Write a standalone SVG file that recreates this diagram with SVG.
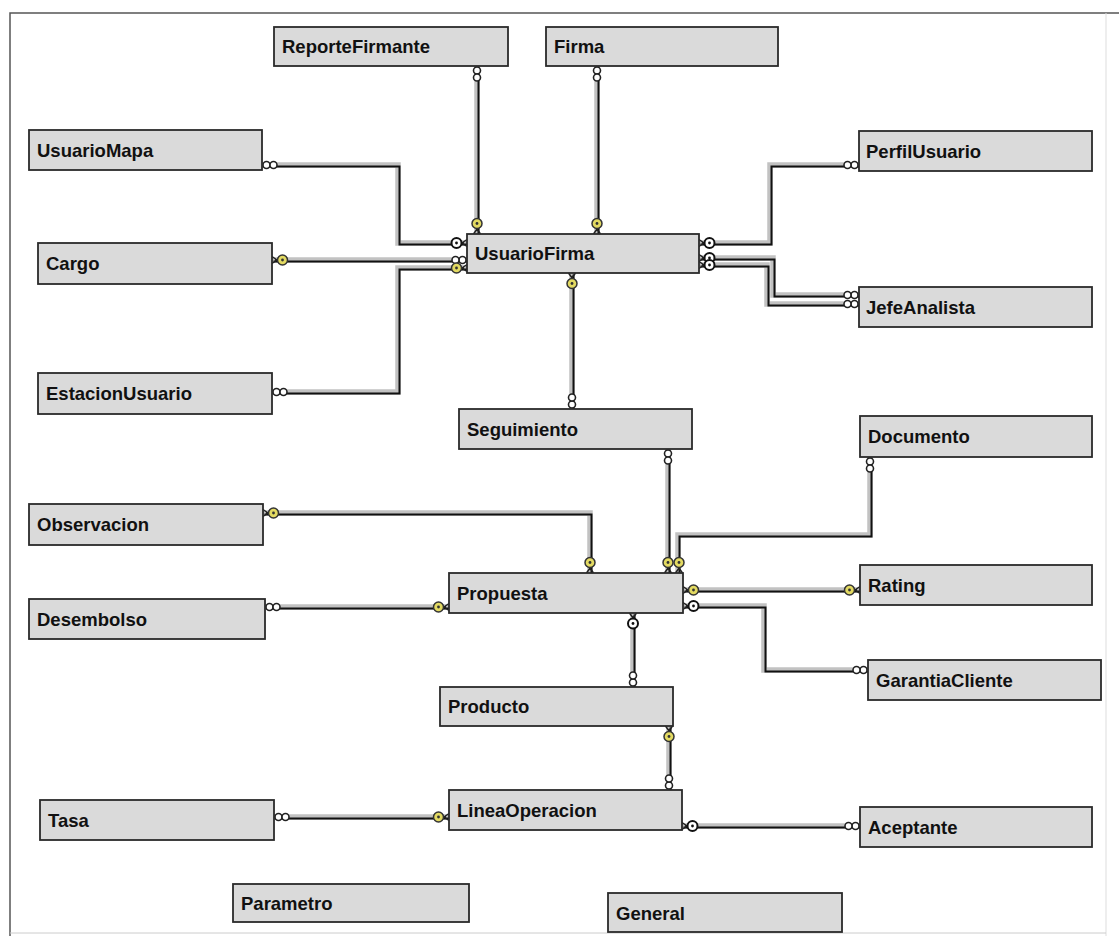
<svg xmlns="http://www.w3.org/2000/svg" xmlns:xlink="http://www.w3.org/1999/xlink" width="1119" height="936" viewBox="0 0 1119 936">
<style>
.box{fill:#dadada;stroke:#2a2a2a;stroke-width:1.8}
.lbl{font-family:"Liberation Sans",Arial,sans-serif;font-weight:bold;font-size:18.5px;fill:#111}
.rail{fill:none;stroke:#c2c2c2;stroke-width:5.5}
.core{fill:none;stroke:#111;stroke-width:2}
.frame{stroke:#555;stroke-width:1.5;fill:none}
</style>
<defs>
<g id="key">
<path d="M0,-3.5 L5,0 L0,3.5" fill="none" stroke="#222" stroke-width="1.5"/>
<line x1="3" y1="0" x2="6" y2="0" stroke="#222" stroke-width="2"/>
<circle cx="10.5" cy="0" r="5" fill="#e3da62" stroke="#333" stroke-width="1.5"/>
<circle cx="10.5" cy="0" r="1.4" fill="#333"/>
</g>
<g id="wkey">
<path d="M0,-3.5 L5,0 L0,3.5" fill="none" stroke="#222" stroke-width="1.5"/>
<line x1="3" y1="0" x2="6" y2="0" stroke="#222" stroke-width="2"/>
<circle cx="10.5" cy="0" r="5" fill="#fff" stroke="#111" stroke-width="2"/>
<circle cx="10.5" cy="0" r="1.4" fill="#111"/>
</g>
<g id="inf">
<circle cx="4.5" cy="0" r="3.5" fill="#fff" stroke="#222" stroke-width="1.6"/>
<circle cx="11.5" cy="0" r="3.5" fill="#fff" stroke="#222" stroke-width="1.6"/>
</g>
</defs>
<rect x="0" y="0" width="1119" height="936" fill="#fff"/>
<g id="frame">
<path class="frame" d="M10,936 V13 H1119"/>
<path d="M1106,13 V936" stroke="#ddd" stroke-width="1" fill="none"/>
<path d="M10,933 H1106" stroke="#ccc" stroke-width="1" fill="none"/>
</g>
<g id="connectors">
<g id="rails">
<path class="rail" d="M477,66 V234"/>
<path class="rail" d="M597,66 V234"/>
<path class="rail" d="M262,165 H398 V243 H467"/>
<path class="rail" d="M272,260 H467"/>
<path class="rail" d="M272,392 H398 V268 H467"/>
<path class="rail" d="M859,165 H770 V243 H699"/>
<path class="rail" d="M859,295 H773 V258 H699"/>
<path class="rail" d="M859,304 H767 V265 H699"/>
<path class="rail" d="M572,409 V273"/>
<path class="rail" d="M668,449 V573"/>
<path class="rail" d="M870,457 V535 H678 V573"/>
<path class="rail" d="M263,513 H590 V573"/>
<path class="rail" d="M265,607 H449"/>
<path class="rail" d="M683,590 H860"/>
<path class="rail" d="M868,670 H764 V606 H683"/>
<path class="rail" d="M633,687 V613"/>
<path class="rail" d="M669,790 V726"/>
<path class="rail" d="M274,817 H449"/>
<path class="rail" d="M682,826 H860"/>
</g>
<g id="cores" transform="translate(1.5,1.5)">
<path class="core" d="M477,66 V234"/>
<path class="core" d="M597,66 V234"/>
<path class="core" d="M262,165 H398 V243 H467"/>
<path class="core" d="M272,260 H467"/>
<path class="core" d="M272,392 H398 V268 H467"/>
<path class="core" d="M859,165 H770 V243 H699"/>
<path class="core" d="M859,295 H773 V258 H699"/>
<path class="core" d="M859,304 H767 V265 H699"/>
<path class="core" d="M572,409 V273"/>
<path class="core" d="M668,449 V573"/>
<path class="core" d="M870,457 V535 H678 V573"/>
<path class="core" d="M263,513 H590 V573"/>
<path class="core" d="M265,607 H449"/>
<path class="core" d="M683,590 H860"/>
<path class="core" d="M868,670 H764 V606 H683"/>
<path class="core" d="M633,687 V613"/>
<path class="core" d="M669,790 V726"/>
<path class="core" d="M274,817 H449"/>
<path class="core" d="M682,826 H860"/>
</g>
<g id="ends">
<use xlink:href="#inf" transform="translate(477,66) rotate(90)"/>
<use xlink:href="#key" transform="translate(477,234) rotate(-90)"/>
<use xlink:href="#inf" transform="translate(597,66) rotate(90)"/>
<use xlink:href="#key" transform="translate(597,234) rotate(-90)"/>
<use xlink:href="#inf" transform="translate(262,165)"/>
<use xlink:href="#wkey" transform="translate(467,243) rotate(180)"/>
<use xlink:href="#key" transform="translate(272,260)"/>
<use xlink:href="#inf" transform="translate(467,260) rotate(180)"/>
<use xlink:href="#inf" transform="translate(272,392)"/>
<use xlink:href="#key" transform="translate(467,268) rotate(180)"/>
<use xlink:href="#inf" transform="translate(859,165) rotate(180)"/>
<use xlink:href="#wkey" transform="translate(699,243)"/>
<use xlink:href="#inf" transform="translate(859,295) rotate(180)"/>
<use xlink:href="#wkey" transform="translate(699,258)"/>
<use xlink:href="#inf" transform="translate(859,304) rotate(180)"/>
<use xlink:href="#wkey" transform="translate(699,265)"/>
<use xlink:href="#inf" transform="translate(572,409) rotate(-90)"/>
<use xlink:href="#key" transform="translate(572,273) rotate(90)"/>
<use xlink:href="#inf" transform="translate(668,449) rotate(90)"/>
<use xlink:href="#key" transform="translate(668,573) rotate(-90)"/>
<use xlink:href="#inf" transform="translate(870,457) rotate(90)"/>
<use xlink:href="#key" transform="translate(679,573) rotate(-90)"/>
<use xlink:href="#key" transform="translate(263,513)"/>
<use xlink:href="#key" transform="translate(590,573) rotate(-90)"/>
<use xlink:href="#inf" transform="translate(265,607)"/>
<use xlink:href="#key" transform="translate(449,607) rotate(180)"/>
<use xlink:href="#key" transform="translate(683,590)"/>
<use xlink:href="#key" transform="translate(860,590) rotate(180)"/>
<use xlink:href="#inf" transform="translate(868,670) rotate(180)"/>
<use xlink:href="#wkey" transform="translate(683,606)"/>
<use xlink:href="#inf" transform="translate(633,687) rotate(-90)"/>
<use xlink:href="#wkey" transform="translate(633,613) rotate(90)"/>
<use xlink:href="#inf" transform="translate(669,790) rotate(-90)"/>
<use xlink:href="#key" transform="translate(669,726) rotate(90)"/>
<use xlink:href="#inf" transform="translate(274,817)"/>
<use xlink:href="#key" transform="translate(449,817) rotate(180)"/>
<use xlink:href="#wkey" transform="translate(682,826)"/>
<use xlink:href="#inf" transform="translate(860,826) rotate(180)"/>
</g>
</g>
<g id="ReporteFirmante"><rect class="box" x="274" y="27" width="234" height="39"/><text class="lbl" x="282" y="53">ReporteFirmante</text></g>
<g id="Firma"><rect class="box" x="546" y="27" width="232" height="39"/><text class="lbl" x="554" y="53">Firma</text></g>
<g id="UsuarioMapa"><rect class="box" x="29" y="130" width="233" height="40"/><text class="lbl" x="37" y="157">UsuarioMapa</text></g>
<g id="Cargo"><rect class="box" x="38" y="243" width="234" height="41"/><text class="lbl" x="46" y="270">Cargo</text></g>
<g id="EstacionUsuario"><rect class="box" x="38" y="373" width="234" height="41"/><text class="lbl" x="46" y="400">EstacionUsuario</text></g>
<g id="UsuarioFirma"><rect class="box" x="467" y="234" width="232" height="39"/><text class="lbl" x="475" y="260">UsuarioFirma</text></g>
<g id="PerfilUsuario"><rect class="box" x="859" y="131" width="233" height="40"/><text class="lbl" x="866" y="158">PerfilUsuario</text></g>
<g id="JefeAnalista"><rect class="box" x="859" y="287" width="233" height="40"/><text class="lbl" x="866" y="314">JefeAnalista</text></g>
<g id="Seguimiento"><rect class="box" x="459" y="409" width="233" height="40"/><text class="lbl" x="467" y="436">Seguimiento</text></g>
<g id="Documento"><rect class="box" x="860" y="416" width="232" height="41"/><text class="lbl" x="868" y="443">Documento</text></g>
<g id="Observacion"><rect class="box" x="29" y="504" width="234" height="41"/><text class="lbl" x="37" y="531">Observacion</text></g>
<g id="Propuesta"><rect class="box" x="449" y="573" width="234" height="40"/><text class="lbl" x="457" y="600">Propuesta</text></g>
<g id="Rating"><rect class="box" x="860" y="565" width="232" height="40"/><text class="lbl" x="868" y="592">Rating</text></g>
<g id="Desembolso"><rect class="box" x="29" y="599" width="236" height="40"/><text class="lbl" x="37" y="626">Desembolso</text></g>
<g id="GarantiaCliente"><rect class="box" x="868" y="660" width="233" height="40"/><text class="lbl" x="876" y="687">GarantiaCliente</text></g>
<g id="Producto"><rect class="box" x="440" y="687" width="233" height="39"/><text class="lbl" x="448" y="713">Producto</text></g>
<g id="Tasa"><rect class="box" x="40" y="800" width="234" height="40"/><text class="lbl" x="48" y="827">Tasa</text></g>
<g id="LineaOperacion"><rect class="box" x="449" y="790" width="233" height="40"/><text class="lbl" x="457" y="817">LineaOperacion</text></g>
<g id="Aceptante"><rect class="box" x="860" y="807" width="232" height="40"/><text class="lbl" x="868" y="834">Aceptante</text></g>
<g id="Parametro"><rect class="box" x="233" y="884" width="236" height="38"/><text class="lbl" x="241" y="910">Parametro</text></g>
<g id="General"><rect class="box" x="608" y="893" width="234" height="39"/><text class="lbl" x="616" y="920">General</text></g>
</svg>
